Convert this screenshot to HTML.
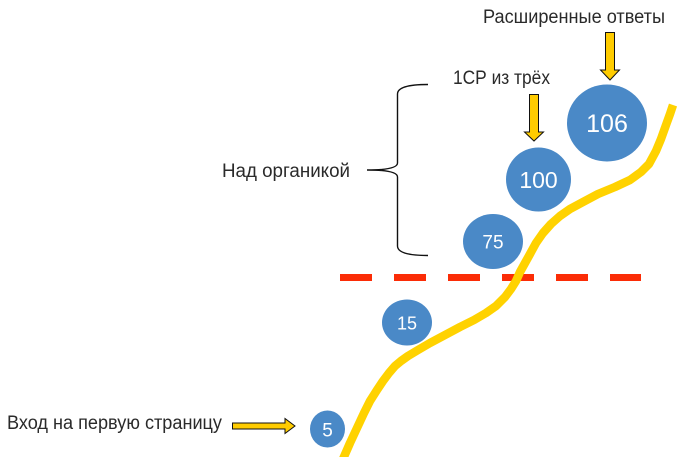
<!DOCTYPE html>
<html><head><meta charset="utf-8"><style>
html,body{margin:0;padding:0;background:#fff;}
svg{display:block;}
text{font-family:"Liberation Sans",sans-serif;}
</style></head><body>
<svg width="686" height="457" viewBox="0 0 686 457" xmlns="http://www.w3.org/2000/svg">
<rect width="686" height="457" fill="#fff"/>
<!-- red dashed line -->
<line x1="340" y1="277.5" x2="641" y2="277.5" stroke="#fb2c06" stroke-width="7" stroke-dasharray="32 22"/>
<!-- yellow curve -->
<polyline fill="none" stroke="#ffd200" stroke-width="8.5" stroke-linejoin="round" stroke-linecap="butt"
points="343,459 350,443 357,428 364,413 370,401 377,390 383,381 389,373 395,366 401,361 408,356 418,350 430,343 445,335 460,327 474,320 486,313 496,306 505,297 511,289 516,281 520,272 525,263 530,254 536,243 543,233 551,224 560,216 570,209 583,202 598,194 615,187 630,180 641,172 649,164 656,151 661,139 666,125 670,114 673,105"/>
<!-- brace -->
<path d="M428,84.5 Q397.5,84.5 397.5,94 L397.5,163 Q397.5,170 367,170 Q397.5,170 397.5,177 L397.5,246 Q397.5,255.5 428,255.5" fill="none" stroke="#111" stroke-width="1.4"/>
<!-- circles -->
<g fill="#4a89c7">
<ellipse cx="607" cy="123" rx="40" ry="38.5"/>
<ellipse cx="538.5" cy="179.5" rx="32.5" ry="32"/>
<ellipse cx="493" cy="241.5" rx="30" ry="27.5"/>
<ellipse cx="407" cy="322.5" rx="25" ry="23"/>
<ellipse cx="327.5" cy="429" rx="17.5" ry="18.5"/>
</g>
<g fill="#fff" text-anchor="middle">
<text x="607" y="132" font-size="25">106</text>
<text x="538.5" y="188" font-size="23">100</text>
<text x="493" y="248.5" font-size="19">75</text>
<text x="407" y="329.5" font-size="18">15</text>
<text x="327.5" y="436.5" font-size="19">5</text>
</g>
<!-- arrows -->
<g fill="#ffcc00" stroke="#111" stroke-width="1">
<path d="M605.5,32.5 L614.5,32.5 L614.5,70 L619.5,70 L610,80 L600.5,70 L605.5,70 Z"/>
<path d="M529.5,94.5 L538.5,94.5 L538.5,132 L543.5,132 L534,141 L524.5,132 L529.5,132 Z"/>
<path d="M232.5,423 L285,423 L285,418.5 L295,426 L285,433.5 L285,429 L232.5,429 Z"/>
</g>
<!-- labels -->
<g fill="#2a2a2a" font-size="19">
<text x="483" y="23" textLength="182" lengthAdjust="spacingAndGlyphs">Расширенные ответы</text>
<text x="453" y="84" textLength="97" lengthAdjust="spacingAndGlyphs">1СР из трёх</text>
<text x="222" y="177" textLength="128" lengthAdjust="spacingAndGlyphs">Над органикой</text>
<text x="7" y="429" textLength="215" lengthAdjust="spacingAndGlyphs">Вход на первую страницу</text>
</g>
</svg>
</body></html>
